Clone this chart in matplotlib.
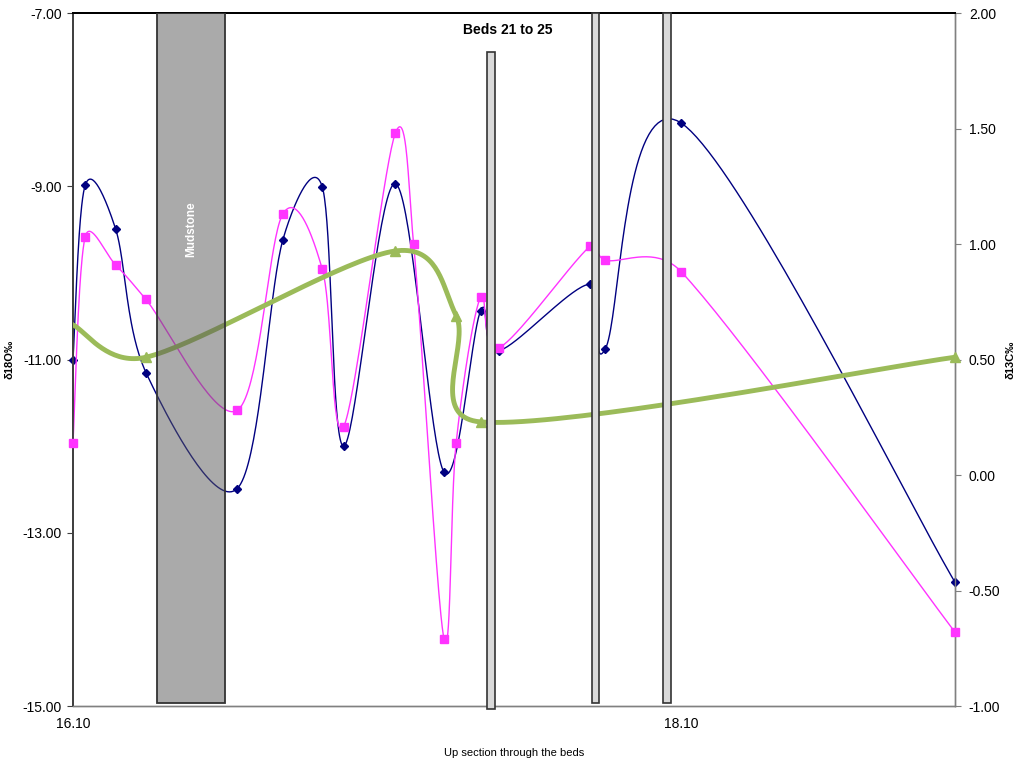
import numpy as np
import matplotlib
matplotlib.use("Agg")
import matplotlib.pyplot as plt
from matplotlib.patches import Rectangle

plt.rcParams["font.family"] = ["Liberation Sans", "DejaVu Sans"]

# ── data ─────────────────────────────────────────────────────────
# blue diamonds, left axis (δ18O‰)
blue_x = [16.10, 16.14, 16.24, 16.34, 16.64, 16.79, 16.92, 16.99, 17.16,
          17.32, 17.44, 17.50, 17.80, 17.85, 18.10, 19.00]
blue_y = [-11.00, -8.99, -9.49, -11.15, -12.49, -9.62, -9.01, -12.00, -8.97,
          -12.30, -10.44, -10.90, -10.13, -10.88, -8.27, -13.57]

# pink squares, right axis (δ13C‰)
pink_x = [16.10, 16.14, 16.24, 16.34, 16.64, 16.79, 16.92, 16.99, 17.16,
          17.22, 17.32, 17.36, 17.44, 17.50, 17.80, 17.85, 18.10, 19.00]
pink_y = [0.14, 1.03, 0.91, 0.76, 0.28, 1.13, 0.89, 0.21, 1.48,
          1.00, -0.71, 0.14, 0.77, 0.55, 0.99, 0.93, 0.88, -0.68]

# green triangles, right axis
green_x = [16.10, 16.34, 17.16, 17.36, 17.44, 19.00]
green_y = [0.65, 0.51, 0.97, 0.69, 0.23, 0.51]

# beds (x start, x end, top in δ18O units)
mudstone = (16.375, 16.60, -7.0)
beds_start = [17.462, 17.808, 18.040]
beds_end = [17.487, 17.830, 18.065]
beds_top = [-7.45, -7.0, -7.0]


def excel_smooth(axis, xs, ys, n=40):
    """Excel-like smoothed line: Bezier with 1/6 tangents capped at half a segment."""
    pts = axis.transData.transform(np.column_stack([xs, ys]).astype(float))
    out = []
    t = np.linspace(0, 1, n)[:, None]
    for i in range(len(pts) - 1):
        p0 = pts[i - 1] if i > 0 else pts[i]
        p1, p2 = pts[i], pts[i + 1]
        p3 = pts[i + 2] if i + 2 < len(pts) else pts[i + 1]
        d02 = np.hypot(*(p2 - p0))
        d12 = np.hypot(*(p2 - p1))
        d13 = np.hypot(*(p3 - p1))
        f1 = d12 / d02 / 2 if d02 / 6 >= d12 / 2 else 1 / 6
        f2 = d12 / d13 / 2 if d13 / 6 >= d12 / 2 else 1 / 6
        c1 = p1 + (p2 - p0) * f1
        c2 = p2 - (p3 - p1) * f2
        seg = ((1 - t) ** 3 * p1 + 3 * (1 - t) ** 2 * t * c1
               + 3 * (1 - t) * t ** 2 * c2 + t ** 3 * p2)
        out.append(seg if i == 0 else seg[1:])
    return axis.transData.inverted().transform(np.vstack(out))


fig = plt.figure(figsize=(10.22, 7.67), dpi=100)
ax = fig.add_axes([0.0714, 0.0795, 0.8630, 0.9035])
ax2 = ax.twinx()

ax.set_xlim(16.10, 19.00)
ax.set_ylim(-15, -7)
ax2.set_ylim(-1, 2)

# lines
sb = excel_smooth(ax, blue_x, blue_y)
ax.plot(sb[:, 0], sb[:, 1], color="#000080", lw=1.0, zorder=2)
ax.plot(blue_x, blue_y, "D", color="#000080", ms=4.5, zorder=3, clip_on=False)

sp = excel_smooth(ax2, pink_x, pink_y)
ax2.plot(sp[:, 0], sp[:, 1], color="#ff33ff", lw=1.0, zorder=2)
ax2.plot(pink_x, pink_y, "s", color="#ff33ff", ms=6, zorder=3, clip_on=False)

sg = excel_smooth(ax2, green_x, green_y)
ax2.plot(sg[:, 0], sg[:, 1], color="#9bbb59", lw=3.5, zorder=4)
ax2.plot(green_x[1:], green_y[1:], "^", color="#9bbb59", ms=7.5, zorder=4,
         clip_on=False)

# beds drawn over the lines
x0, x1, top = mudstone
ax2.add_patch(Rectangle((x0, -14.97), x1 - x0, top + 14.97,
                        transform=ax.transData, facecolor="#575757",
                        alpha=0.5, edgecolor="none", zorder=6))
ax2.add_patch(Rectangle((x0, -14.97), x1 - x0, top + 14.97,
                        transform=ax.transData, facecolor="none",
                        edgecolor="#333333", lw=1.3, zorder=7))
ax2.text((x0 + x1) / 2, -9.5, "Mudstone", transform=ax.transData,
         rotation=90, color="white", fontsize=8.5, fontweight="bold",
         ha="center", va="center", zorder=8)

for i, (bs, be, bt) in enumerate(zip(beds_start, beds_end, beds_top)):
    bottom = -15.03 if i == 0 else -14.97
    ax2.add_patch(Rectangle((bs, bottom), be - bs, bt - bottom,
                            transform=ax.transData, facecolor="#d9d9d9",
                            edgecolor="#333333", lw=1.2, zorder=6,
                            clip_on=False))

ax2.text(17.53, -7.2, "Beds 21 to 25", transform=ax.transData,
         fontsize=10, fontweight="bold", ha="center", va="center", zorder=8)

# axes
ax.set_xticks([16.10, 18.10])
ax.set_xticklabels(["16.10", "18.10"])
ax.set_yticks([-15, -13, -11, -9, -7])
ax.set_yticklabels([f"{v:.2f}" for v in [-15, -13, -11, -9, -7]])
ax2.set_yticks(np.arange(-1, 2.01, 0.5))
ax2.set_yticklabels([f"{v:.2f}" for v in np.arange(-1, 2.01, 0.5)])

ax.tick_params(axis="x", length=0, labelsize=10, pad=8)
ax.tick_params(axis="y", direction="out", length=4, color="#404040",
               labelsize=10, pad=4)
ax2.tick_params(axis="y", direction="out", length=4, color="#808080",
                labelsize=10, pad=6)

for a in (ax, ax2):
    a.spines["top"].set_color("#000000")
    a.spines["top"].set_linewidth(1.4)
    a.spines["left"].set_color("#404040")
    a.spines["left"].set_linewidth(1.3)
    a.spines["right"].set_color("#808080")
    a.spines["right"].set_linewidth(1.0)
    a.spines["bottom"].set_color("#808080")
    a.spines["bottom"].set_linewidth(1.0)

ax.set_ylabel("δ18O‰", fontsize=8, fontweight="bold")
ax.yaxis.set_label_coords(-0.066, 0.5)
ax2.set_ylabel("δ13C‰", fontsize=8, fontweight="bold", rotation=90)
ax2.yaxis.set_label_coords(1.057, 0.5)
ax.set_xlabel("Up section through the beds", fontsize=8, labelpad=12)

fig.savefig("out.png", dpi=100)
